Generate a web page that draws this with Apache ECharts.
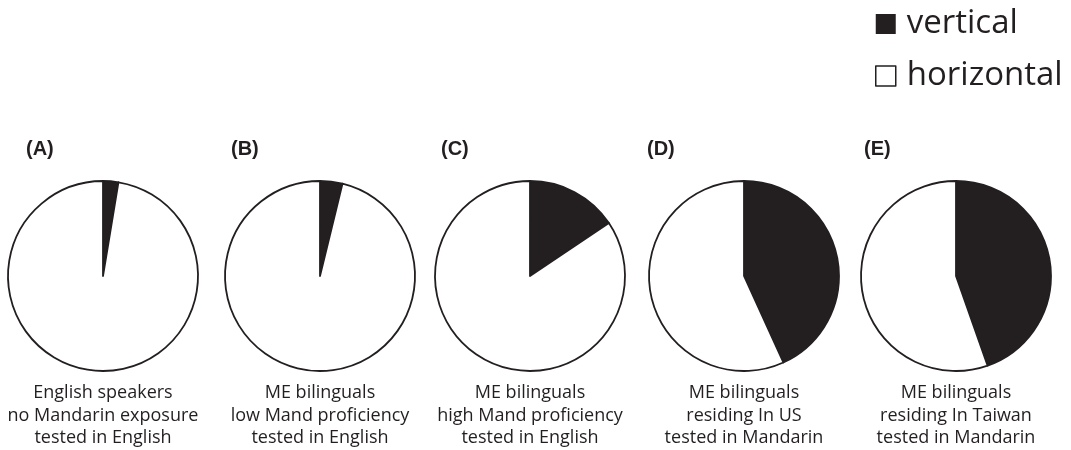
<!DOCTYPE html>
<html>
<head>
<meta charset="utf-8">
<script src="https://cdn.jsdelivr.net/npm/echarts@6/dist/echarts.min.js"></script>
<style>
  html, body { margin: 0; padding: 0; background: #fff; }
  #main { width: 1071px; height: 450px; }
</style>
</head>
<body>
<div id="main"></div>
<script>
// data (percent of responses)
var panels = ['(A)', '(B)', '(C)', '(D)', '(E)'];
var captions = [
  'English speakers\nno Mandarin exposure\ntested in English',
  'ME bilinguals\nlow Mand proficiency\ntested in English',
  'ME bilinguals\nhigh Mand proficiency\ntested in English',
  'ME bilinguals\nresiding In US\ntested in Mandarin',
  'ME bilinguals\nresiding In Taiwan\ntested in Mandarin'
];
var verticalPct = [2.6, 3.8, 15.6, 43.2, 44.6];
var horizontalPct = [97.4, 96.2, 84.4, 56.8, 55.4];

var ink = '#231f20';
var font = '"Open Sans", sans-serif';

// layout
var centersX = [103, 320, 530, 744, 956];
var letterX = [26, 231, 441, 647, 864];
var centerY = 276;

var chart = echarts.init(document.getElementById('main'));

var series = [];
var graphics = [];
for (var i = 0; i < panels.length; i++) {
  series.push({
    type: 'pie',
    name: panels[i],
    center: [centersX[i], centerY],
    radius: 95,
    startAngle: 90,
    clockwise: true,
    silent: true,
    label: { show: false },
    labelLine: { show: false },
    itemStyle: { borderColor: ink, borderWidth: 1.8 },
    data: [
      { name: 'vertical', value: verticalPct[i], itemStyle: { color: ink } },
      { name: 'horizontal', value: horizontalPct[i], itemStyle: { color: '#fff' } }
    ]
  });
  graphics.push({
    type: 'text',
    left: letterX[i],
    top: 139,
    style: { text: panels[i], font: 'bold 20px "Liberation Sans", Arial, sans-serif', fill: ink }
  });
  graphics.push({
    type: 'text',
    x: centersX[i],
    y: 382,
    style: {
      text: captions[i],
      fontFamily: font,
      fontSize: 18,
      lineHeight: 22.5,
      align: 'center',
      verticalAlign: 'top',
      fill: ink
    }
  });
}

var option = {
  animation: false,
  backgroundColor: '#fff',
  legend: {
    orient: 'vertical',
    left: 870,
    top: 2,
    itemWidth: 20,
    itemHeight: 20,
    itemGap: 18,
    selectedMode: false,
    icon: 'rect',
    textStyle: { fontFamily: font, fontSize: 33, lineHeight: 34, color: ink, padding: [0, 0, 0, 6] },
    data: [
      { name: 'vertical', itemStyle: { color: ink, borderWidth: 0 } },
      { name: 'horizontal', itemStyle: { color: '#fff', borderColor: ink, borderWidth: 1.5 } }
    ]
  },
  graphic: graphics,
  series: series
};

chart.setOption(option);
</script>
</body>
</html>
